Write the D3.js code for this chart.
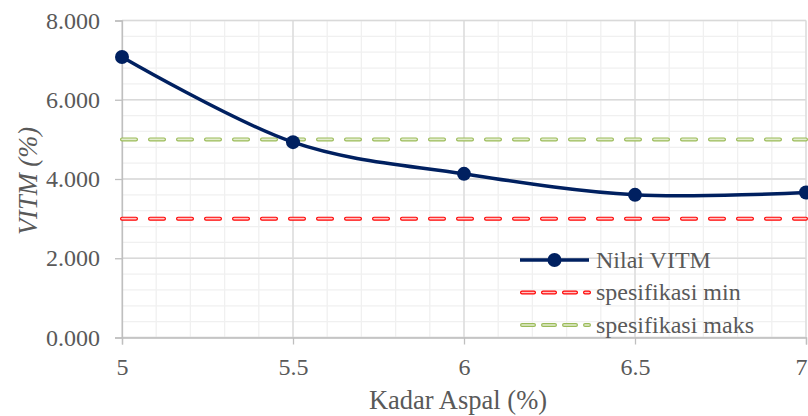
<!DOCTYPE html>
<html>
<head>
<meta charset="utf-8">
<script src="https://cdn.jsdelivr.net/npm/d3@7"></script>
<style>
  body { margin: 0; background: #fff; }
  svg text { font-family: "Liberation Serif"; }
</style>
</head>
<body>
<div class="chart"></div>
<script>
// data
const kadarAspal = [5, 5.5, 6, 6.5, 7];
const nilaiVITM = [7.08, 4.93, 4.13, 3.60, 3.66];
const specMin = 3.0;
const specMaks = 5.0;
const yTicks = [0, 2, 4, 6, 8];
const xTicks = [5, 5.5, 6, 6.5, 7];
const legendLabels = ["Nilai VITM", "spesifikasi min", "spesifikasi maks"];

const width = 808, height = 416;
const margin = ({top: 20.5, right: 2, bottom: 78.5, left: 122});
const FONT = '"Liberation Serif"';

const svg = d3.select(".chart").append("svg")
  .attr("width", width).attr("height", height)
  .style("font-family", FONT);

const xScale = d3.scaleLinear().domain([5, 7]).range([margin.left, width - margin.right]);
const yScale = d3.scaleLinear().domain([0, 8]).range([height - margin.bottom, margin.top]);

// minor gridlines
const g = svg.append("g");
g.selectAll(".xminor").data(d3.range(5, 7.0001, 0.1)).enter().append("line")
  .attr("x1", d => xScale(d)).attr("x2", d => xScale(d))
  .attr("y1", yScale(0)).attr("y2", yScale(8))
  .attr("stroke", "#f0f0f0").attr("stroke-width", 1.3);
g.selectAll(".yminor").data(d3.range(0, 8.0001, 0.4)).enter().append("line")
  .attr("x1", xScale(5)).attr("x2", xScale(7))
  .attr("y1", d => yScale(d)).attr("y2", d => yScale(d))
  .attr("stroke", "#f0f0f0").attr("stroke-width", 1.3);

// major gridlines
g.selectAll(".xmajor").data(xTicks).enter().append("line")
  .attr("x1", d => xScale(d)).attr("x2", d => xScale(d))
  .attr("y1", yScale(0)).attr("y2", yScale(8))
  .attr("stroke", "#d9d9d9").attr("stroke-width", 1.3);
g.selectAll(".ymajor").data(yTicks).enter().append("line")
  .attr("x1", xScale(5)).attr("x2", xScale(7))
  .attr("y1", d => yScale(d)).attr("y2", d => yScale(d))
  .attr("stroke", "#d9d9d9").attr("stroke-width", 1.3);

// axes
const yAxis = d3.axisLeft(yScale).tickValues(yTicks).tickSize(7).tickPadding(15)
  .tickFormat(d3.format(".3f"));
const yG = svg.append("g").attr("class", "axis y-axis")
  .attr("transform", `translate(${xScale(5)},0)`)
  .call(yAxis)
  .attr("font-family", FONT).attr("font-size", 24);

const xAxis = d3.axisBottom(xScale).tickValues(xTicks).tickSize(7).tickPadding(13)
  .tickFormat(d => d);
const xG = svg.append("g").attr("class", "axis x-axis")
  .attr("transform", `translate(0,${yScale(0)})`)
  .call(xAxis)
  .attr("font-family", FONT).attr("font-size", 24);

svg.selectAll(".axis path, .axis line").attr("stroke", "#bfbfbf").attr("stroke-width", 1.3);
svg.selectAll(".axis text").attr("fill", "#595959");
// last x label sits at the right edge
xG.selectAll(".tick").filter(d => d === 7).select("text")
  .attr("text-anchor", "end").attr("x", 1);

// spec lines: outlined dashes
function specLine(val, outer, inner) {
  const y = yScale(val);
  svg.append("line").attr("x1", xScale(5)).attr("x2", xScale(7))
    .attr("y1", y).attr("y2", y)
    .attr("stroke", outer).attr("stroke-width", 4)
    .attr("stroke-dasharray", "14 14").attr("stroke-linecap", "round");
  svg.append("line").attr("x1", xScale(5)).attr("x2", xScale(7))
    .attr("y1", y).attr("y2", y)
    .attr("stroke", inner).attr("stroke-width", 1.6)
    .attr("stroke-dasharray", "14 14").attr("stroke-linecap", "round");
}
specLine(specMin, "#ff0000", "#ffc8c8");
specLine(specMaks, "#9bbb59", "#e3edcf");

// main series
const data = kadarAspal.map((k, i) => ({x: k, y: nilaiVITM[i]}));
const line = d3.line().x(d => xScale(d.x)).y(d => yScale(d.y)).curve(d3.curveCatmullRom.alpha(0));
svg.append("path").datum(data)
  .attr("d", line).attr("fill", "none")
  .attr("stroke", "#002060").attr("stroke-width", 3.5);
svg.selectAll(".dot").data(data).enter().append("circle")
  .attr("cx", d => xScale(d.x)).attr("cy", d => yScale(d.y)).attr("r", 7)
  .attr("fill", "#002060");

// legend
const lg = svg.append("g").attr("transform", "translate(520,260)");
const rowH = 32.5;
lg.append("line").attr("x1", 0).attr("x2", 69).attr("y1", 0).attr("y2", 0)
  .attr("stroke", "#002060").attr("stroke-width", 3.5);
lg.append("circle").attr("cx", 34.5).attr("cy", 0).attr("r", 7).attr("fill", "#002060");
[["#ff0000", "#ffc8c8"], ["#9bbb59", "#e3edcf"]].forEach((c, i) => {
  const y = rowH * (i + 1);
  lg.append("line").attr("x1", 2).attr("x2", 69).attr("y1", y).attr("y2", y)
    .attr("stroke", c[0]).attr("stroke-width", 4)
    .attr("stroke-dasharray", "12 9").attr("stroke-linecap", "round");
  lg.append("line").attr("x1", 2).attr("x2", 69).attr("y1", y).attr("y2", y)
    .attr("stroke", c[1]).attr("stroke-width", 1.6)
    .attr("stroke-dasharray", "12 9").attr("stroke-linecap", "round");
});
lg.selectAll(".lt").data(legendLabels).enter().append("text")
  .attr("x", 76).attr("y", (d, i) => i * rowH).attr("dy", "0.33em")
  .attr("font-size", 24).attr("fill", "#595959")
  .text(d => d);

// axis titles
svg.append("text").attr("x", 458).attr("y", 409).attr("text-anchor", "middle")
  .attr("font-size", 26.5).attr("fill", "#595959")
  .text("Kadar Aspal (%)");
svg.append("text").attr("transform", "translate(37,181) rotate(-90)")
  .attr("text-anchor", "middle")
  .attr("font-size", 26.5).attr("font-style", "italic")
  .attr("fill", "#595959")
  .text("VITM (%)");
</script>
</body>
</html>
